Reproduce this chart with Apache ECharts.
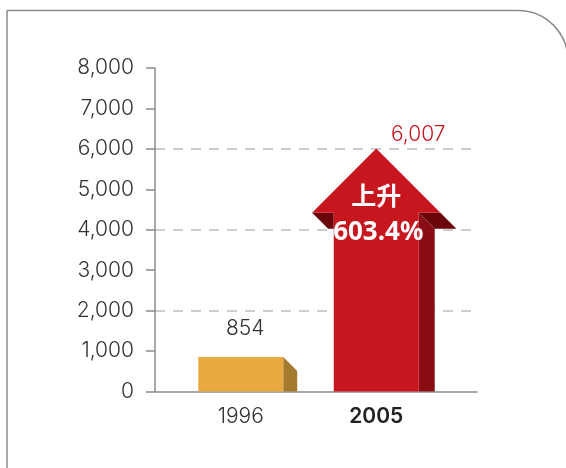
<!DOCTYPE html>
<html>
<head>
<meta charset="utf-8">
<script src="https://cdn.jsdelivr.net/npm/echarts@6/dist/echarts.min.js"></script>
<style>
  html, body { margin: 0; padding: 0; background: #fff; }
  #rise-bar { width: 566px; height: 468px; }
</style>
</head>
<body>
<div id="rise-bar"></div>
<script>
// 数据
var years = ['1996', '2005']
var values = [854, 6007]
var yMin = 0
var yMax = 8000
var yStep = 1000
var riseWord = '上升'

var numFont = 'Inter, "DejaVu Sans", sans-serif'
var boldFont = '"Noto Sans", "Noto Sans CJK SC", sans-serif'

// 上升百分比
var risePct = ((values[1] - values[0]) / values[0] * 100).toFixed(1) + '%'

function fmt(v) {
  return v.toLocaleString('en-US')
}

// 画 3D 柱子 / 箭头
function renderBar(params, api) {
  var idx = api.value(0)
  var val = api.value(1)
  var base = api.coord([idx, 0])
  var top = api.coord([idx, val])
  var bw = api.size([1, 0])[0] * 0.627
  var h = bw / 2
  var cx = base[0]
  var by = base[1]
  var ty = top[1]

  if (idx === 0) {
    var d = 14
    return {
      type: 'group',
      children: [
        {
          type: 'polygon',
          shape: { points: [[cx + h, ty], [cx + h + d, ty + d], [cx + h + d, by], [cx + h, by]] },
          style: { fill: '#A47B2E' }
        },
        {
          type: 'polygon',
          shape: { points: [[cx - h, ty], [cx + h, ty], [cx + h, by], [cx - h, by]] },
          style: { fill: '#E8A93F' }
        },
        {
          type: 'text',
          x: cx + 4.5,
          y: ty - 28,
          style: { text: fmt(val), fill: '#333', fontSize: 21, fontFamily: numFont, fontWeight: 300, align: 'center', verticalAlign: 'middle' }
        }
      ]
    }
  }

  var dd = 16
  var w = h + bw * 0.255
  var hb = ty + w // 箭头底部
  return {
    type: 'group',
    children: [
      // 杆右侧
      {
        type: 'polygon',
        shape: { points: [[cx + h, hb], [cx + h + dd, hb + dd], [cx + h + dd, by], [cx + h, by]] },
        style: { fill: '#8A0C15' }
      },
      // 右斜边
      {
        type: 'polygon',
        shape: { points: [[cx, ty], [cx + w, hb], [cx + w + dd, hb + dd], [cx + dd, ty + dd]] },
        style: { fill: '#C8161F' }
      },
      // 右翼下面
      {
        type: 'polygon',
        shape: { points: [[cx + h, hb], [cx + w, hb], [cx + w + dd, hb + dd], [cx + h + dd, hb + dd]] },
        style: { fill: '#6A050B' }
      },
      // 左翼下面
      {
        type: 'polygon',
        shape: { points: [[cx - w, hb], [cx - h, hb], [cx - h, hb + dd], [cx - w + dd, hb + dd]] },
        style: { fill: '#6A050B' }
      },
      // 正面
      {
        type: 'polygon',
        shape: {
          points: [[cx, ty], [cx + w, hb], [cx + h, hb], [cx + h, by], [cx - h, by], [cx - h, hb], [cx - w, hb]]
        },
        style: { fill: '#C8161F' }
      },
      {
        type: 'text',
        x: cx + 42,
        y: ty - 14,
        style: { text: fmt(val), fill: '#C8161F', fontSize: 21, fontFamily: numFont, fontWeight: 300, align: 'center', verticalAlign: 'middle' }
      },
      {
        type: 'text',
        x: cx,
        y: ty + 47,
        style: { text: riseWord, fill: '#fff', fontSize: 25, fontFamily: '"Noto Sans CJK SC", sans-serif', fontWeight: 'bold', align: 'center', verticalAlign: 'middle' }
      },
      {
        type: 'text',
        x: cx + 2,
        y: ty + 84,
        style: { text: risePct, fill: '#fff', fontSize: 26, fontFamily: boldFont, fontWeight: 'bold', align: 'center', verticalAlign: 'middle' }
      }
    ]
  }
}

var myChart = echarts.init(document.getElementById('rise-bar'))
var option = {
  animation: false,
  graphic: [
    {
      type: 'rect',
      shape: { x: 7, y: 10.5, width: 561, height: 520, r: [0, 50, 0, 0] },
      style: { fill: 'none', stroke: '#8a8a8a', lineWidth: 1.5 },
      z: -1
    }
  ],
  grid: [
    { left: 155, right: 89, top: 68, bottom: 76.5 },
    { left: 173, right: 122, top: 68, bottom: 76.5 }
  ],
  xAxis: [
    {
      gridIndex: 0,
      type: 'value',
      min: 0,
      max: 1,
      axisLine: { show: true, lineStyle: { color: '#8c8c8c', width: 1.5 } },
      axisTick: { show: false },
      axisLabel: { show: false },
      splitLine: { show: false }
    },
    {
      gridIndex: 1,
      type: 'category',
      data: years,
      axisLine: { show: false },
      axisTick: { show: false },
      axisLabel: {
        margin: 15,
        formatter: function (v, i) {
          return i === years.length - 1 ? '{b|' + v + '}' : '{n|' + v + '}'
        },
        rich: {
          n: { fontSize: 21, fontFamily: numFont, fontWeight: 300, color: '#333' },
          b: { fontSize: 21, fontFamily: numFont, fontWeight: 600, color: '#222' }
        }
      }
    }
  ],
  yAxis: [
    {
      gridIndex: 0,
      type: 'value',
      min: yMin,
      max: yMax,
      interval: yStep,
      axisLine: { show: true, lineStyle: { color: '#8c8c8c', width: 1.5 } },
      axisTick: { show: true, length: 9, lineStyle: { color: '#8c8c8c', width: 1.5 } },
      axisLabel: {
        margin: 21,
        color: '#333',
        fontSize: 21,
        fontFamily: numFont,
        fontWeight: 300,
        formatter: function (v) { return fmt(v) }
      },
      splitLine: { show: false }
    },
    {
      // 虚线网格 每 2000
      gridIndex: 0,
      type: 'value',
      min: yMin,
      max: yMax,
      interval: yStep * 2,
      axisLine: { show: false },
      axisTick: { show: false },
      axisLabel: { show: false },
      splitLine: {
        show: true,
        showMinLine: false,
        showMaxLine: false,
        lineStyle: { color: '#bdbdbd', width: 1.5, type: [10, 8] }
      }
    },
    {
      gridIndex: 1,
      type: 'value',
      min: yMin,
      max: yMax,
      show: false
    }
  ],
  series: [
    {
      type: 'custom',
      xAxisIndex: 1,
      yAxisIndex: 2,
      renderItem: renderBar,
      encode: { x: 0, y: 1 },
      data: values.map(function (v, i) { return [i, v] }),
      z: 5
    }
  ]
}
myChart.setOption(option)
</script>
</body>
</html>
